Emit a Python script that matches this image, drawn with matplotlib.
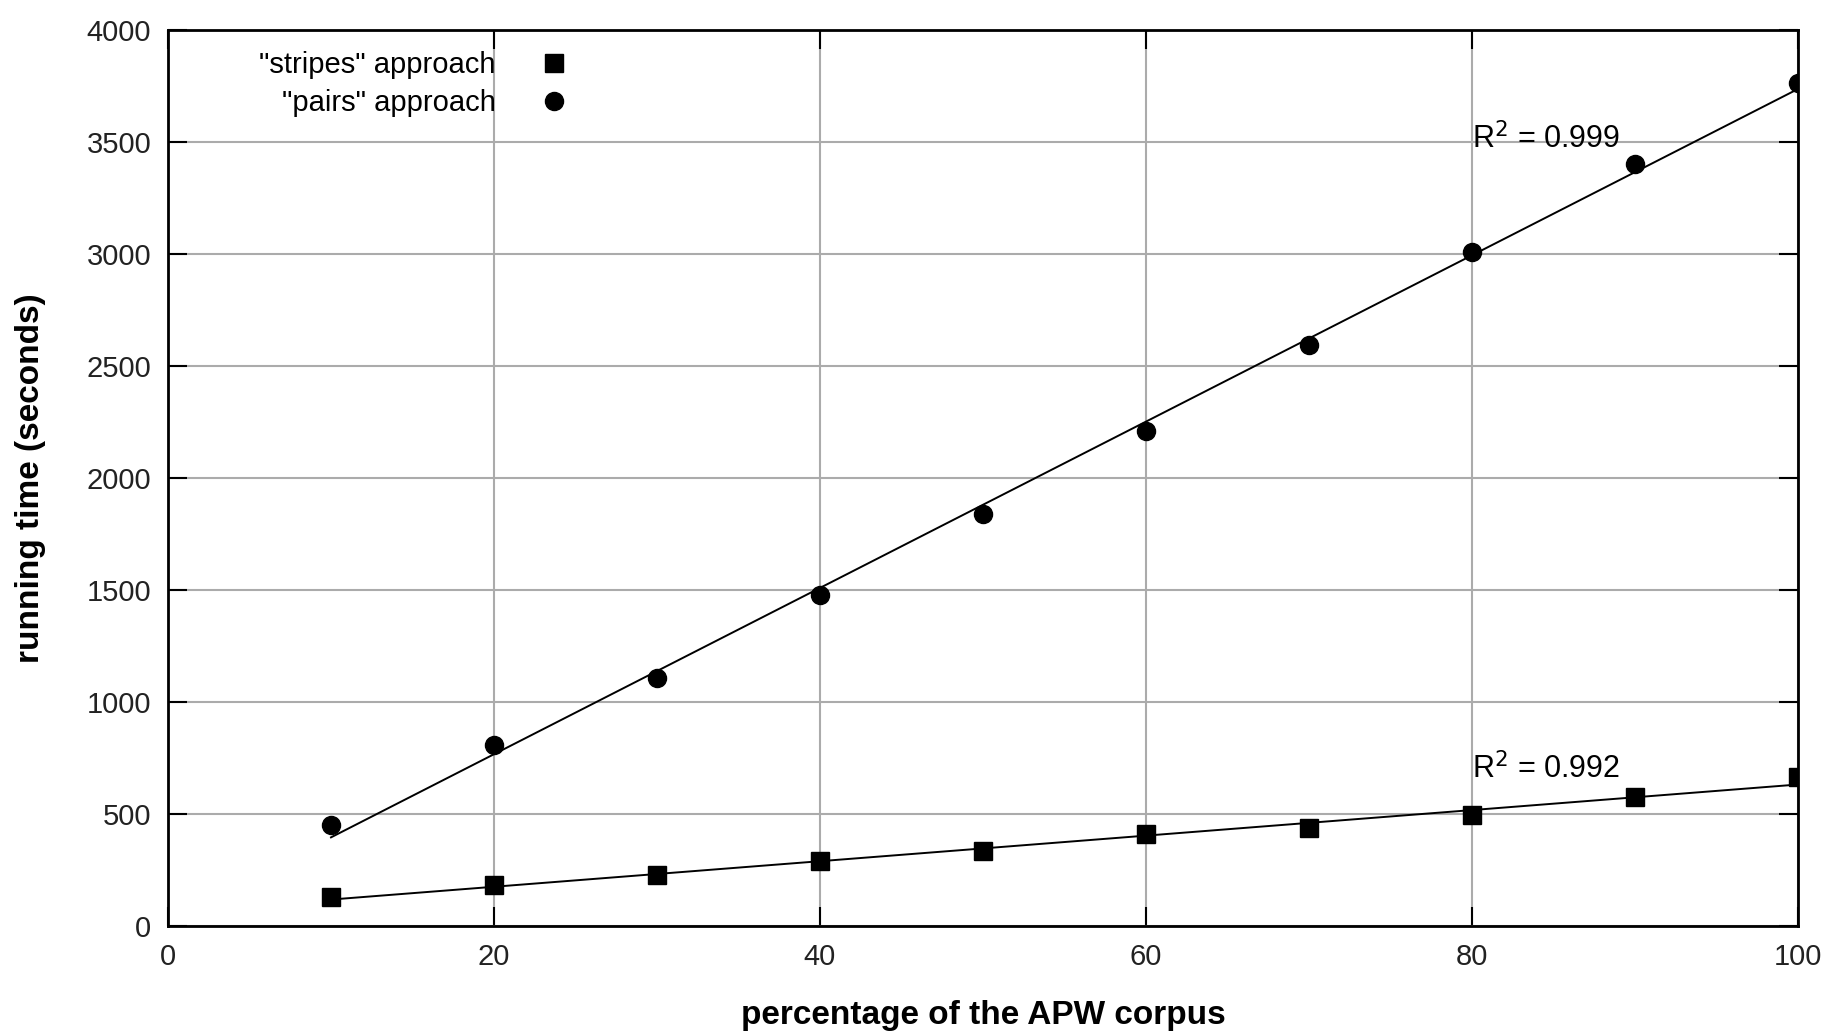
import matplotlib
matplotlib.use("Agg")
import matplotlib.pyplot as plt
import numpy as np

plt.rcParams["font.family"] = ["Liberation Sans", "DejaVu Sans"]

# percentage of the APW corpus
pct = [10, 20, 30, 40, 50, 60, 70, 80, 90, 100]
# running time (seconds)
stripes_time = [130, 185, 230, 292, 335, 411, 440, 498, 576, 665]
pairs_time = [450, 807, 1110, 1480, 1838, 2210, 2595, 3010, 3404, 3765]

stripes_r2 = "0.992"
pairs_r2 = "0.999"

x_ticks = [0, 20, 40, 60, 80, 100]
y_ticks = list(range(0, 4001, 500))

fig = plt.figure(figsize=(18.3, 10.35), dpi=100)
ax = fig.add_axes([0.0918, 0.105, 0.8907, 0.866])

x = np.array(pct, dtype=float)
for ys, marker, label, ms in [(stripes_time, "s", '"stripes" approach', 13),
                              (pairs_time, "o", '"pairs" approach', 13)]:
    ys = np.array(ys, dtype=float)
    ax.plot(x, ys, linestyle="none", marker=marker, markersize=ms,
            color="black", label=label, zorder=4)
    # least-squares trend line
    k, b = np.polyfit(x, ys, 1)
    ax.plot(x, k * x + b, color="black", linewidth=1.4, zorder=3)

ax.text(80, 3470, r"R$^2$ = " + pairs_r2, fontsize=22, ha="left", va="baseline")
ax.text(80, 660, r"R$^2$ = " + stripes_r2, fontsize=22, ha="left", va="baseline")

ax.set_xlim(0, 100)
ax.set_ylim(0, 4000)
ax.set_xticks(x_ticks)
ax.set_yticks(y_ticks)
ax.grid(True, color="#ababab", linewidth=1.5)
ax.set_axisbelow(True)
ax.tick_params(direction="in", length=14, width=1.5, top=True, right=True,
               labelsize=21, pad=12, labelcolor="#222222")
for s in ax.spines.values():
    s.set_linewidth(2)

ax.set_xlabel("percentage of the APW corpus", fontsize=24, fontweight="bold", labelpad=21)
ax.set_ylabel("running time (seconds)", fontsize=24, fontweight="bold", labelpad=29)

ax.legend(loc="upper left", bbox_to_anchor=(0.04, 1.006), frameon=False,
          markerfirst=False, fontsize=21, handlelength=1.0, handletextpad=1.5,
          labelspacing=0.35, alignment="right")

fig.savefig("out.png", dpi=100)
